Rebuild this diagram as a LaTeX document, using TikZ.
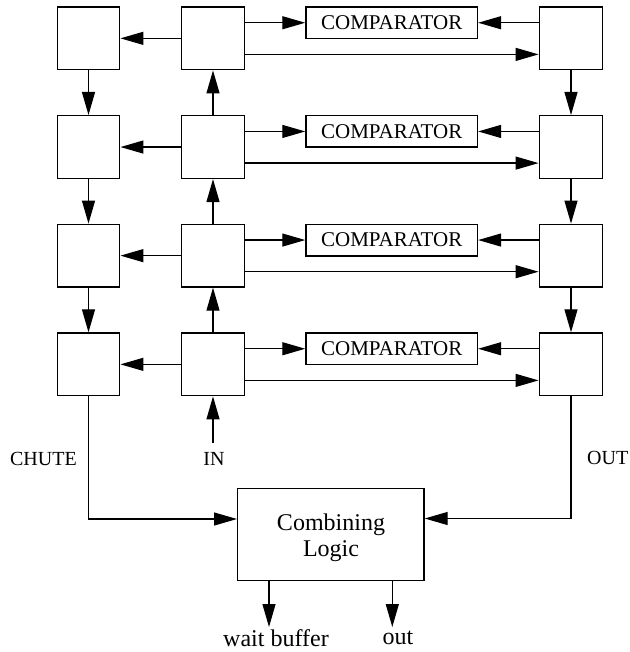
\documentclass[tikz,border=0pt]{standalone}
\usepackage{fontspec}
\setmainfont{Liberation Serif}
\usetikzlibrary{arrows.meta,calc}
\begin{document}
\begin{tikzpicture}[x=1pt,y=-1pt,
  cell/.style={draw,line width=1.4pt,minimum width=62.5pt,minimum height=62.7pt,inner sep=0pt},
  comp/.style={draw,line width=1.4pt,minimum width=171.5pt,minimum height=31.5pt,inner sep=0pt,font=\fontsize{21}{23}\selectfont},
  arr/.style={line width=1.2pt,-{Triangle[length=23pt,width=13pt]}},
  lbl/.style={font=\fontsize{20}{22}\selectfont,inner sep=0pt},
  olbl/.style={font=\fontsize{24}{26}\selectfont,inner sep=0pt}]
\useasboundingbox (0,0) rectangle (629,652);
\foreach \i/\t in {1/7,2/115.7,3/224.3,4/333}{
  \node[cell] (left\i) at (88.5,\t+31.35) {};
  \node[cell] (mid\i) at (213,\t+31.35) {};
  \node[cell,minimum width=63.5pt] (right\i) at (571,\t+31.35) {};
  \node[comp] (comp\i) at (391.7,\t+15.75) {COMPARATOR};
  \draw[arr] (mid\i.west) -- (left\i.east);
  \draw[arr] (mid\i.east |- comp\i.west) -- (comp\i.west);
  \draw[arr] (right\i.west |- comp\i.east) -- (comp\i.east);
  \draw[arr] ([yshift=16pt]mid\i.south east) -- ([yshift=16pt]right\i.south west);
}
\foreach \a/\b in {1/2,2/3,3/4}{
  \draw[arr] (left\a.south) -- (left\b.north);
  \draw[arr] (mid\b.north) -- (mid\a.south);
  \draw[arr] (right\a.south) -- (right\b.north);
}
\node[draw,line width=1.4pt,minimum width=186.3pt,minimum height=92.4pt] (comb) at (330.85,534.5) {};
\node[align=center,font=\fontsize{24}{26}\selectfont,inner sep=0pt] (combtxt) at (331,537.5) {Combining\\Logic};
\coordinate (inS) at (213,443);
\draw[arr] (inS) -- (mid4.south);
\node[lbl] (inl) at (214,459) {IN};
\node[lbl,anchor=east] (chute) at (77,459) {CHUTE};
\node[lbl,anchor=west] (outl) at (587,458) {OUT};
\draw[arr] (left4.south) |- ([yshift=15.5pt]comb.west);
\draw[arr] (right4.south) |- ([yshift=16pt]comb.east);
\coordinate (wbT) at (269,627);
\coordinate (ouT) at (392.3,627);
\draw[arr] (wbT |- comb.south) -- (wbT);
\draw[arr] (ouT |- comb.south) -- (ouT);
\node[olbl] (wb) at (276,638) {wait buffer};
\node[olbl] (outo) at (398,638) {out};
\end{tikzpicture}
\end{document}
